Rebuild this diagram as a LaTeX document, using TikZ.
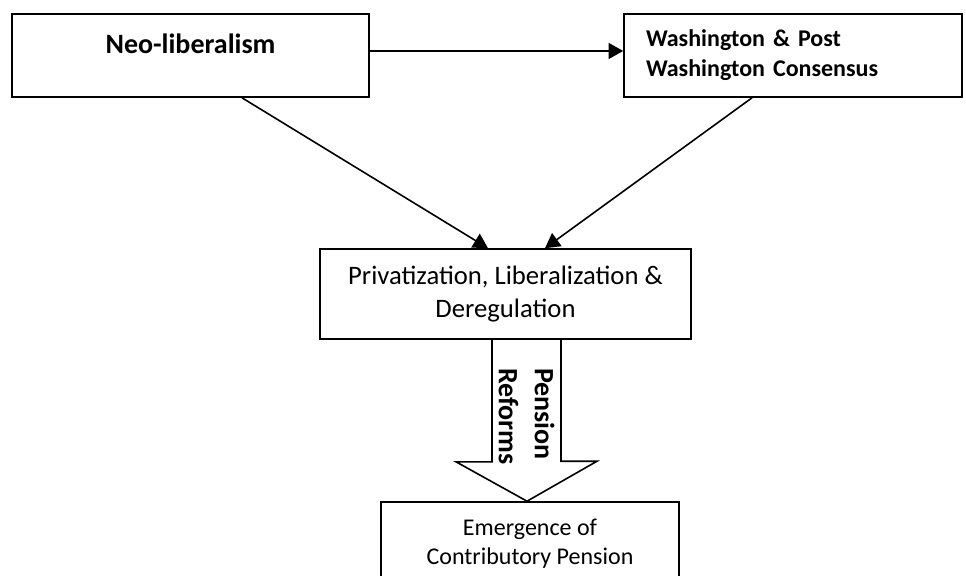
\documentclass[tikz,border=0pt]{standalone}
\usepackage{fontspec}
\setmainfont{Carlito}
\usetikzlibrary{arrows.meta}
\usetikzlibrary{positioning,calc}

\begin{document}
\begin{tikzpicture}[x=0.75pt, y=-0.75pt, auto,
			block/.style={
					rectangle,
					draw,
					line width=1.2pt,
					inner sep=0pt,
					align=center
				},
			line/.style={draw, line width=1.2pt, -{Triangle[length=11pt,width=12pt]}},
			fatarrow/.style={draw, line width=1.2pt, line join=miter}
		]
		\useasboundingbox (0,0) rectangle (966,575);
		\clip (0,0) rectangle (966,575);
		% Place nodes
		\node [block, minimum width=267.75pt, minimum height=62.25pt] (neo) at (190.5,55.5) {};
		\node [font=\fontsize{21}{25}\selectfont] (neotext) at ($(neo.north)+(0,31)$) {\textbf{Neo-liberalism}};
		\node [block, font=\fontsize{18}{22.5}\selectfont, text width=220.5pt, inner xsep=16.5pt, minimum height=62.25pt, align=left] (wash) at (793,55.5) {\textbf{Washington \& Post}\\ \textbf{Washington Consensus}};
		\node [block, font=\fontsize{20}{24.75}\selectfont, minimum width=278.25pt, minimum height=67.5pt] (priv) at (505.5,294) {Privatization, Liberalization \&\\ Deregulation};
		\node [block, font=\fontsize{18}{21.75}\selectfont, minimum width=223.5pt, minimum height=62.25pt] (contrib) at (530,543.5) {Emergence of\\ Contributory Pension};
		% Draw edges
		\path [line] ([yshift=3.4pt]neo.east) -- ([yshift=3.4pt]wash.west);
		\path [line] ($(neo.south)+(51.5,0)$) -- ($(priv.north)+(-17.5,0)$);
		\path [line] ($(wash.south)+(-41,0)$) -- ($(priv.north)+(39.5,0)$);
		\draw [fatarrow] ($(priv.south)+(-13.5,0)$) -- ++(0,122) -- ++(-36,0) -- ($(contrib.north)+(-3,0)$) -- ++(70,-40) -- ++(-36,0) -- ++(0,-122);
		\node [font=\fontsize{21}{27}\selectfont, rotate=-90, align=left] (reforms) at (526.5,416.5) {\textbf{Pension}\\ \textbf{Reforms}};
	\end{tikzpicture}
\end{document}
